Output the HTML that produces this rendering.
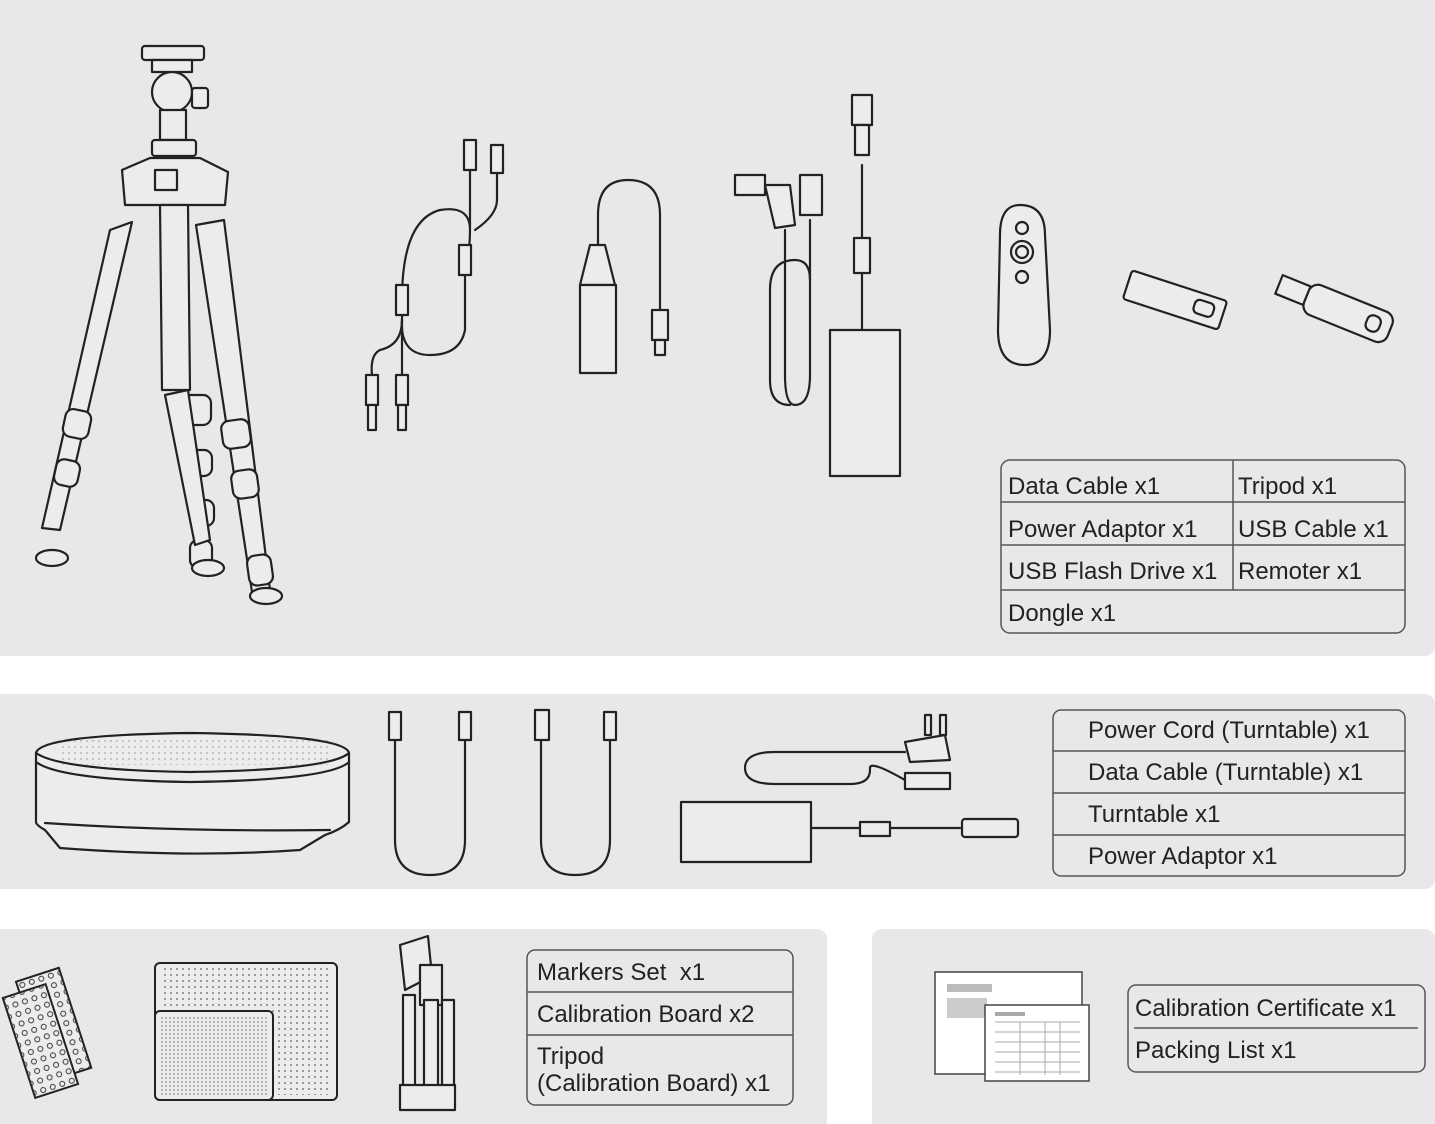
<!DOCTYPE html>
<html><head><meta charset="utf-8"><style>
html,body{margin:0;padding:0;background:#fff;width:1435px;height:1124px;overflow:hidden}
svg{display:block}
text{font-family:"Liberation Sans",sans-serif;fill:#222;font-size:24px}
.l{fill:none;stroke:#222;stroke-width:2.2;stroke-linecap:round;stroke-linejoin:round}
.w{fill:#ececec;stroke:#222;stroke-width:2.2;stroke-linejoin:round}
.tb{fill:none;stroke:#555;stroke-width:1.5}
</style></head><body>
<svg width="1435" height="1124" viewBox="0 0 1435 1124">
<defs>
<pattern id="dots" width="6" height="6" patternUnits="userSpaceOnUse"><rect x="2" y="2" width="2" height="2" fill="#555"/></pattern>
<pattern id="dots2" width="4" height="4" patternUnits="userSpaceOnUse"><rect x="1" y="1" width="2" height="2" fill="#666"/></pattern>
<pattern id="circ" width="10" height="10" patternUnits="userSpaceOnUse"><circle cx="5" cy="5" r="2.5" fill="none" stroke="#333" stroke-width="1"/></pattern>
</defs>
<path d="M0 0H1435V646a10 10 0 0 1-10 10H0Z" fill="#e8e8ea"/>
<path d="M0 694H1425a10 10 0 0 1 10 10V879a10 10 0 0 1-10 10H0Z" fill="#e8e8ea"/>
<path d="M0 929H817a10 10 0 0 1 10 10V1124H0Z" fill="#e8e8ea"/>
<path d="M882 929H1425a10 10 0 0 1 10 10V1124H872V939a10 10 0 0 1 10-10Z" fill="#e8e8ea"/>

<g>
<rect class="w" x="142" y="46" width="62" height="14" rx="3"/>
<rect class="w" x="152" y="60" width="40" height="12"/>
<circle class="w" cx="172" cy="92" r="20"/>
<rect class="w" x="192" y="88" width="16" height="20" rx="3"/>
<rect class="w" x="160" y="110" width="26" height="30"/>
<rect class="w" x="152" y="140" width="44" height="16" rx="3"/>
<path class="w" d="M122 170 L150 158 L200 158 L228 172 L225 205 L125 205 Z"/>
<rect class="w" x="155" y="170" width="22" height="20"/>
<path class="w" d="M110 230 L132 222 L60 530 L42 528 Z"/>
<path class="w" d="M160 205 L188 205 L190 390 L162 390 Z"/>
<path class="w" d="M196 225 L224 220 L270 590 L252 592 Z"/>
<rect class="w" x="64" y="410" width="26" height="28" rx="8" transform="rotate(12 77 424)"/>
<rect class="w" x="55" y="460" width="24" height="26" rx="8" transform="rotate(12 67 473)"/>
<rect class="w" x="183" y="395" width="28" height="30" rx="8"/>
<rect class="w" x="186" y="450" width="26" height="26" rx="8"/>
<rect class="w" x="190" y="500" width="24" height="26" rx="8"/>
<rect class="w" x="190" y="540" width="22" height="28" rx="8"/>
<path class="w" d="M188 390 L210 540 L195 545 L165 395Z"/>
<rect class="w" x="222" y="420" width="28" height="28" rx="8" transform="rotate(-8 236 434)"/>
<rect class="w" x="232" y="470" width="26" height="28" rx="8" transform="rotate(-8 245 484)"/>
<rect class="w" x="248" y="555" width="24" height="30" rx="8" transform="rotate(-8 260 570)"/>
<ellipse class="w" cx="52" cy="558" rx="16" ry="8"/>
<ellipse class="w" cx="208" cy="568" rx="16" ry="8"/>
<ellipse class="w" cx="266" cy="596" rx="16" ry="8"/>
</g>

<g>
<path class="l" d="M470 170 V230 Q470 250 465 270 V330 Q460 355 430 355 Q400 355 402 320 V300 Q402 220 440 210 Q470 205 470 230"/>
<path class="l" d="M497 170 V200 Q497 215 475 230"/>
<path class="l" d="M402 320 Q402 345 380 350 Q370 355 372 375"/>
<path class="l" d="M402 320 V375"/>
<rect class="w" x="464" y="140" width="12" height="30"/><rect class="w" x="491" y="145" width="12" height="28"/>
<rect class="w" x="459" y="245" width="12" height="30"/><rect class="w" x="396" y="285" width="12" height="30"/>
<rect class="w" x="366" y="375" width="12" height="30"/><rect class="w" x="396" y="375" width="12" height="30"/>
<rect class="w" x="368" y="405" width="8" height="25"/><rect class="w" x="398" y="405" width="8" height="25"/>
</g>

<g>
<path class="l" d="M598 245 V215 Q598 180 628 180 Q660 180 660 215 V310"/>
<path class="w" d="M590 245 H605 L615 285 H580Z"/>
<rect class="w" x="580" y="285" width="36" height="88"/>
<rect class="w" x="652" y="310" width="16" height="30"/><rect class="w" x="655" y="340" width="10" height="15"/>
</g>

<g>
<path class="l" d="M785 230 V375 Q785 405 795 405 Q810 405 810 375 V280 Q810 260 795 260 Q770 260 770 290 V380 Q770 405 790 405"/>
<path class="l" d="M810 220 V280"/>
<path class="w" d="M765 185 L790 185 L795 225 L775 228 Z"/>
<rect class="w" x="735" y="175" width="30" height="20"/>
<rect class="w" x="800" y="175" width="22" height="40"/>
<path class="l" d="M862 165 V330"/>
<rect class="w" x="852" y="95" width="20" height="30"/><rect class="w" x="855" y="125" width="14" height="30"/>
<rect class="w" x="854" y="238" width="16" height="35"/>
<rect class="w" x="830" y="330" width="70" height="146"/>
</g>

<g>
<path class="w" d="M1000 235 Q1000 205 1020 205 Q1045 205 1045 235 L1050 330 Q1050 365 1025 365 Q998 365 998 330Z"/>
<circle class="l" cx="1022" cy="228" r="6"/><circle class="l" cx="1022" cy="252" r="11"/><circle class="l" cx="1022" cy="252" r="6"/><circle class="l" cx="1022" cy="277" r="6"/>
</g>
<g transform="rotate(18 1175 300)"><rect class="w" x="1125" y="285" width="100" height="30" rx="3"/><rect class="w" x="1195" y="292" width="20" height="14" rx="5"/></g>
<g transform="rotate(22 1330 305)"><rect class="w" x="1275" y="295" width="30" height="20"/><rect class="w" x="1305" y="290" width="90" height="32" rx="10"/><rect class="w" x="1370" y="298" width="14" height="16" rx="6"/></g>

<rect class="tb" x="1001" y="460" width="404" height="173" rx="9"/>
<path class="tb" d="M1001 502H1405M1001 545H1405M1001 590H1405M1233 460V590"/>
<text x="1008" y="494">Data Cable x1</text><text x="1238" y="494">Tripod x1</text>
<text x="1008" y="537">Power Adaptor x1</text><text x="1238" y="537">USB Cable x1</text>
<text x="1008" y="579">USB Flash Drive x1</text><text x="1238" y="579">Remoter x1</text>
<text x="1008" y="621">Dongle x1</text>

<g>
<path class="w" d="M36 753 Q40 735 190 733 Q345 735 349 753 V822 Q340 830 325 835 L300 850 Q190 858 60 848 L45 830 Q36 825 36 822Z"/>
<path class="l" d="M36 753 Q60 770 190 772 Q330 770 349 753"/>
<path class="l" d="M36 762 Q60 780 190 782 Q330 780 349 762"/>
<path class="l" d="M45 823 Q180 832 330 830"/>
<rect x="60" y="740" width="270" height="25" fill="url(#dots)" opacity=".25"/>
</g>
<g>
<path class="l" d="M395 740 V840 Q395 875 430 875 Q465 875 465 840 V740"/>
<rect class="w" x="389" y="712" width="12" height="28"/><rect class="w" x="459" y="712" width="12" height="28"/>
<path class="l" d="M541 740 V840 Q541 875 575 875 Q610 875 610 840 V740"/>
<rect class="w" x="535" y="710" width="14" height="30"/><rect class="w" x="604" y="712" width="12" height="28"/>
</g>
<g>
<path class="l" d="M905 752 H775 Q745 752 745 768 Q745 784 775 784 H850 Q870 784 870 770 V768 Q870 760 905 780"/>
<path class="w" d="M905 742 L945 735 L950 760 L910 762Z"/><rect class="w" x="925" y="715" width="6" height="20"/><rect class="w" x="940" y="715" width="6" height="20"/>
<rect class="w" x="905" y="773" width="45" height="16"/>
<rect class="w" x="681" y="802" width="130" height="60"/>
<path class="l" d="M811 828 H960"/>
<rect class="w" x="860" y="822" width="30" height="14"/>
<rect class="w" x="962" y="819" width="56" height="18" rx="3"/>
</g>
<rect class="tb" x="1053" y="710" width="352" height="166" rx="8"/>
<path class="tb" d="M1053 751H1405M1053 793H1405M1053 835H1405"/>
<text x="1088" y="738">Power Cord (Turntable) x1</text>
<text x="1088" y="780">Data Cable (Turntable) x1</text>
<text x="1088" y="822">Turntable x1</text>
<text x="1088" y="864">Power Adaptor x1</text>

<g transform="rotate(-18 60 1020)">
<rect x="30" y="970" width="45" height="105" fill="#ececec" stroke="#222" stroke-width="2"/>
<rect x="30" y="970" width="45" height="105" fill="url(#circ)"/>
</g>
<g transform="rotate(-18 50 1030)">
<rect x="15" y="985" width="45" height="105" fill="#ececec" stroke="#222" stroke-width="2"/>
<rect x="15" y="985" width="45" height="105" fill="url(#circ)"/>
</g>
<rect x="155" y="963" width="182" height="137" rx="5" fill="#ececec" stroke="#222" stroke-width="2"/>
<rect x="160" y="968" width="172" height="127" fill="url(#dots)" opacity=".55"/>
<rect x="155" y="1011" width="118" height="89" rx="5" fill="#ececec" stroke="#222" stroke-width="2"/>
<rect x="159" y="1015" width="110" height="81" fill="url(#dots2)" opacity=".4"/>
<g>
<path class="w" d="M400 945 L428 936 L432 976 L405 990Z"/>
<rect class="w" x="420" y="965" width="22" height="40"/>
<rect class="w" x="424" y="1000" width="14" height="105"/>
<rect class="w" x="403" y="995" width="12" height="100"/>
<rect class="w" x="442" y="1000" width="12" height="95"/>
<rect class="w" x="400" y="1085" width="55" height="25"/>
</g>
<rect class="tb" x="527" y="950" width="266" height="155" rx="8"/>
<path class="tb" d="M527 992H793M527 1035H793"/>
<text x="537" y="980">Markers Set &#160;x1</text>
<text x="537" y="1022">Calibration Board x2</text>
<text x="537" y="1064">Tripod</text>
<text x="537" y="1091">(Calibration Board) x1</text>

<rect x="935" y="972" width="147" height="102" fill="#fff" stroke="#444" stroke-width="1.5"/>
<rect x="947" y="984" width="45" height="8" fill="#bbb"/><rect x="947" y="998" width="40" height="20" fill="#ccc"/>
<rect x="985" y="1005" width="104" height="76" fill="#fff" stroke="#444" stroke-width="1.5"/>
<rect x="995" y="1012" width="30" height="4" fill="#aaa"/>
<path d="M995 1022H1080M995 1032H1080M995 1042H1080M995 1052H1080M995 1062H1080M995 1072H1080M1020 1022V1075M1045 1022V1075M1060 1022V1075" stroke="#aaa" stroke-width="1"/>
<rect class="tb" x="1128" y="985" width="297" height="87" rx="8"/>
<path class="tb" d="M1134 1028H1418"/>
<text x="1135" y="1016">Calibration Certificate x1</text>
<text x="1135" y="1058">Packing List x1</text>
</svg>
</body></html>
